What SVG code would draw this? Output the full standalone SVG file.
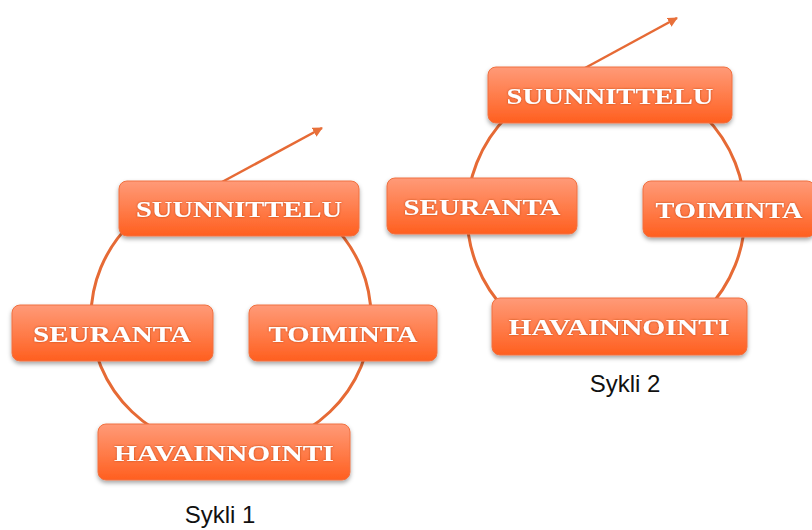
<svg xmlns="http://www.w3.org/2000/svg" width="812" height="530" viewBox="0 0 812 530">
<defs>
<linearGradient id="g" x1="0" y1="0" x2="0" y2="1">
<stop offset="0" stop-color="#FF9A78"/>
<stop offset="0.45" stop-color="#FF8050"/>
<stop offset="1" stop-color="#FF5F1F"/>
</linearGradient>
<filter id="sh" x="-10%" y="-20%" width="120%" height="150%">
<feDropShadow dx="0" dy="2.5" stdDeviation="2" flood-color="#000" flood-opacity="0.35"/>
</filter>
<filter id="ts" x="-5%" y="-20%" width="110%" height="140%">
<feDropShadow dx="0" dy="0" stdDeviation="0.8" flood-color="#B03A10" flood-opacity="0.8"/>
</filter>
<marker id="ah" viewBox="0 0 10 10" refX="9" refY="5" markerWidth="4" markerHeight="4" orient="auto" markerUnits="strokeWidth">
<path d="M0,0 L10,5 L0,10 z" fill="#E8703A"/>
</marker>
</defs>
<style>
.ring{fill:none;stroke:#E66A35;stroke-width:3}
.arr{fill:none;stroke:#E66A35;stroke-width:2.5}
.box{fill:url(#g);stroke:#F07040;stroke-width:1;filter:url(#sh)}
.lbl{font-family:"Liberation Serif","Times New Roman",serif;font-weight:bold;font-size:24px;fill:#fff;text-anchor:middle;filter:url(#ts)}
.cap{font-family:"Liberation Sans",Arial,sans-serif;font-size:24px;fill:#111;text-anchor:middle}
</style>
<rect width="812" height="530" fill="#fff"/>
<g id="connectors">
<ellipse class="ring" cx="231" cy="317" rx="140" ry="134"/>
<circle class="ring" cx="606" cy="214" r="139"/>
<line class="arr" x1="222" y1="182" x2="322" y2="128" marker-end="url(#ah)"/>
<line class="arr" x1="585" y1="68" x2="677" y2="18" marker-end="url(#ah)"/>
</g>
<g id="c1-suunnittelu"><rect class="box" x="119" y="181" width="240" height="55" rx="8"/><text class="lbl" x="239" y="216.5" textLength="206" lengthAdjust="spacingAndGlyphs">SUUNNITTELU</text></g>
<g id="c1-seuranta"><rect class="box" x="12" y="305" width="201" height="56" rx="8"/><text class="lbl" x="112" y="341.5" textLength="158" lengthAdjust="spacingAndGlyphs">SEURANTA</text></g>
<g id="c1-toiminta"><rect class="box" x="249" y="305" width="188" height="56" rx="8"/><text class="lbl" x="343" y="341.5" textLength="149" lengthAdjust="spacingAndGlyphs">TOIMINTA</text></g>
<g id="c1-havainnointi"><rect class="box" x="98" y="424" width="252" height="56" rx="8"/><text class="lbl" x="224" y="460.5" textLength="220" lengthAdjust="spacingAndGlyphs">HAVAINNOINTI</text></g>
<g id="c2-suunnittelu"><rect class="box" x="488" y="67" width="244" height="56" rx="8"/><text class="lbl" x="610" y="103.5" textLength="207" lengthAdjust="spacingAndGlyphs">SUUNNITTELU</text></g>
<g id="c2-seuranta"><rect class="box" x="387" y="178" width="190" height="56" rx="8"/><text class="lbl" x="482" y="214.5" textLength="157" lengthAdjust="spacingAndGlyphs">SEURANTA</text></g>
<g id="c2-toiminta"><rect class="box" x="643" y="181" width="172" height="56" rx="8"/><text class="lbl" x="729" y="217.5" textLength="147" lengthAdjust="spacingAndGlyphs">TOIMINTA</text></g>
<g id="c2-havainnointi"><rect class="box" x="492" y="298" width="255" height="57" rx="8"/><text class="lbl" x="619" y="334.5" textLength="221" lengthAdjust="spacingAndGlyphs">HAVAINNOINTI</text></g>
<text class="cap" x="220" y="523">Sykli 1</text>
<text class="cap" x="625" y="392">Sykli 2</text>
</svg>
